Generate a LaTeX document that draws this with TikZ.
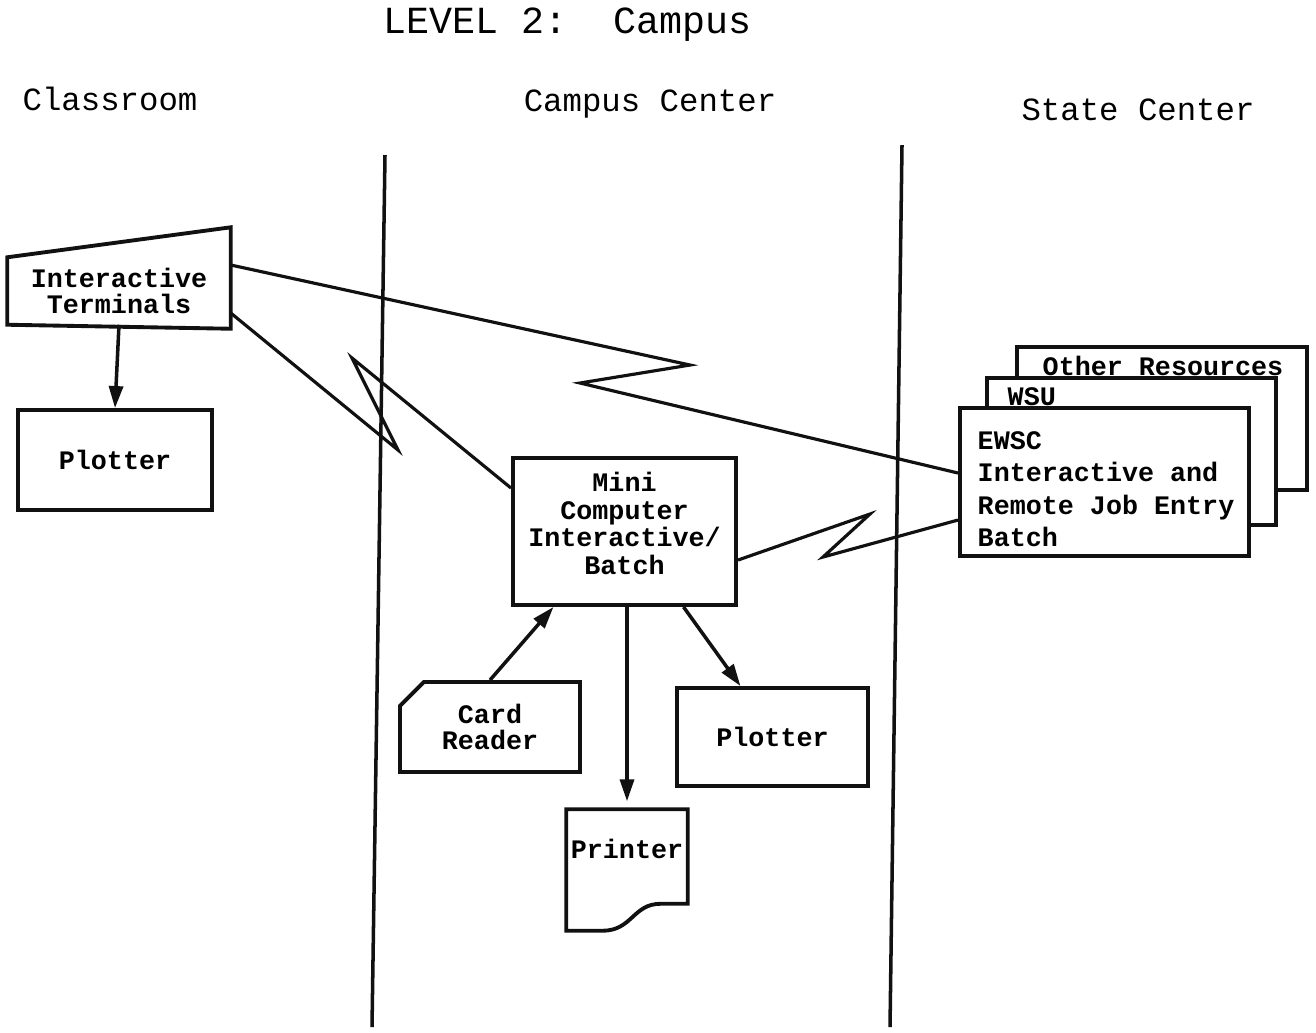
\documentclass[tikz,border=0pt]{standalone}
\usepackage{fontspec}
\setmonofont{Liberation Mono}
\usetikzlibrary{arrows.meta,positioning,calc,shapes.misc}
\definecolor{ink}{HTML}{111111}
\tikzset{
  devbox/.style={
    draw=ink,
    line width=1.1pt,
    fill=white,
    inner sep=0pt,
    align=center,
    font=\ttfamily\bfseries\fontsize{7.6}{7.5}\selectfont
  },
  devline/.style={draw=ink, line width=1.1pt},
  boxtext/.style={
    inner sep=0pt,
    align=center,
    font=\ttfamily\bfseries\fontsize{7.6}{7.5}\selectfont
  },
  headtext/.style={font=\ttfamily\fontsize{9.2}{11}\selectfont, inner sep=0pt},
  divider/.style={draw=ink, line width=1pt},
  linkline/.style={draw=ink, line width=0.9pt, line join=miter},
  flowarrow/.style={-{Triangle[length=2.2mm,width=1.4mm]},line width=1pt,draw=ink}
}

\begin{document}
\begin{tikzpicture}[x=0.01cm,y=-0.01cm]
\useasboundingbox (0,0) rectangle (1316,1032);

% headings
\node[headtext,font=\ttfamily\fontsize{10.9}{12}\selectfont] (title) at (568,25) {LEVEL 2:\ \ Campus};
\node[headtext] (classroom) at (110,99) {Classroom};
\node[headtext] (campus) at (650,104) {Campus Center};
\node[headtext] (state) at (1138,110) {State Center};

% dividers
\draw[divider] (385,155) -- (372,1027);
\draw[divider] (902,145) -- (890,1027);

% classroom
\node[boxtext,minimum width=22.2mm,minimum height=6.6mm] (term) at (119,291) {Interactive\\Terminals};
\draw[devline] (term.north west) -- ($(term.north east)+(0,-30)$) -- ($(term.south east)+(0,4)$) -- (term.south west) -- cycle;
\node[devbox,minimum width=19.4mm,minimum height=10mm] (plotA) at (115,460) {Plotter};
\draw[flowarrow] (term.south) -- (plotA.north);

% state center stack
\node[devbox,minimum width=29mm,minimum height=14.3mm] (other) at (1162,418.5) {};
\node[devbox,minimum width=28.9mm,minimum height=14.7mm] (wsu) at (1131.5,451.5) {};
\node[devbox,minimum width=28.9mm,minimum height=14.8mm] (ewsc) at (1104.5,482) {};
\node[boxtext,align=left,anchor=west,font=\ttfamily\bfseries\fontsize{7.6}{9.2}\selectfont] (ewsclbl) at (977,489)
  {EWSC\\Interactive and\\Remote Job Entry\\Batch};
\node[boxtext] (otherlbl) at (1163,366) {Other Resources};
\node[boxtext,anchor=west] (wsulbl) at (1007,397) {WSU};

% campus center
\node[devbox,minimum width=22.3mm,minimum height=14.7mm,font=\ttfamily\bfseries\fontsize{7.6}{7.8}\selectfont] (mini) at (624.5,531.5) {Mini\\Computer\\Interactive/\\Batch\\[-1.1mm]};
\node[devbox,chamfered rectangle,chamfered rectangle corners=north west,
  chamfered rectangle xsep=1.2mm,chamfered rectangle ysep=1.2mm,
  minimum width=18mm,minimum height=9mm] (card) at (490,727) {Card\\Reader};
\node[devbox,minimum width=19.1mm,minimum height=9.8mm] (plotB) at (772.5,737) {Plotter};
\node[boxtext,minimum width=12mm,text height=4.8mm,text depth=7.2mm] (printer) at (627,870) {Printer};
\draw[devline] (printer.north west) -- (printer.north east) -- ($(printer.south east)+(0,-27)$)
  -- ($(printer.south east)+(-27,-27)$)
  .. controls ($(printer.south east)+(-55,-27)$) and ($(printer.south west)+(66,0)$) .. ($(printer.south west)+(36,0)$)
  -- (printer.south west) -- cycle;

\draw[flowarrow] (card.north) -- ([xshift=-7.1mm]mini.south);
\draw[flowarrow,shorten >=0.8mm] (mini.south -| printer.north) -- (printer.north);
\draw[flowarrow] ([xshift=5.9mm]mini.south) -- ([xshift=-3.2mm]plotB.north);

% links with zigzags
\coordinate (zigA) at (690,365);
\coordinate (zigB) at (580,383);
\coordinate (zigC) at (398,450);
\coordinate (zigD) at (352,358);
\coordinate (zigE) at (870,514);
\coordinate (zigF) at (823,557);
\draw[linkline] ([yshift=2.6mm]term.east) -- (zigA) -- (zigB) -- ([yshift=0.9mm]ewsc.west);
\draw[linkline] ([yshift=-2.2mm]term.east) -- (zigC) -- (zigD) -- ([yshift=-3.2mm]mini.north west);
\draw[linkline] ([yshift=-2.85mm]mini.east) -- (zigE) -- (zigF) -- ([yshift=-3.8mm]ewsc.west);
\end{tikzpicture}
\end{document}
